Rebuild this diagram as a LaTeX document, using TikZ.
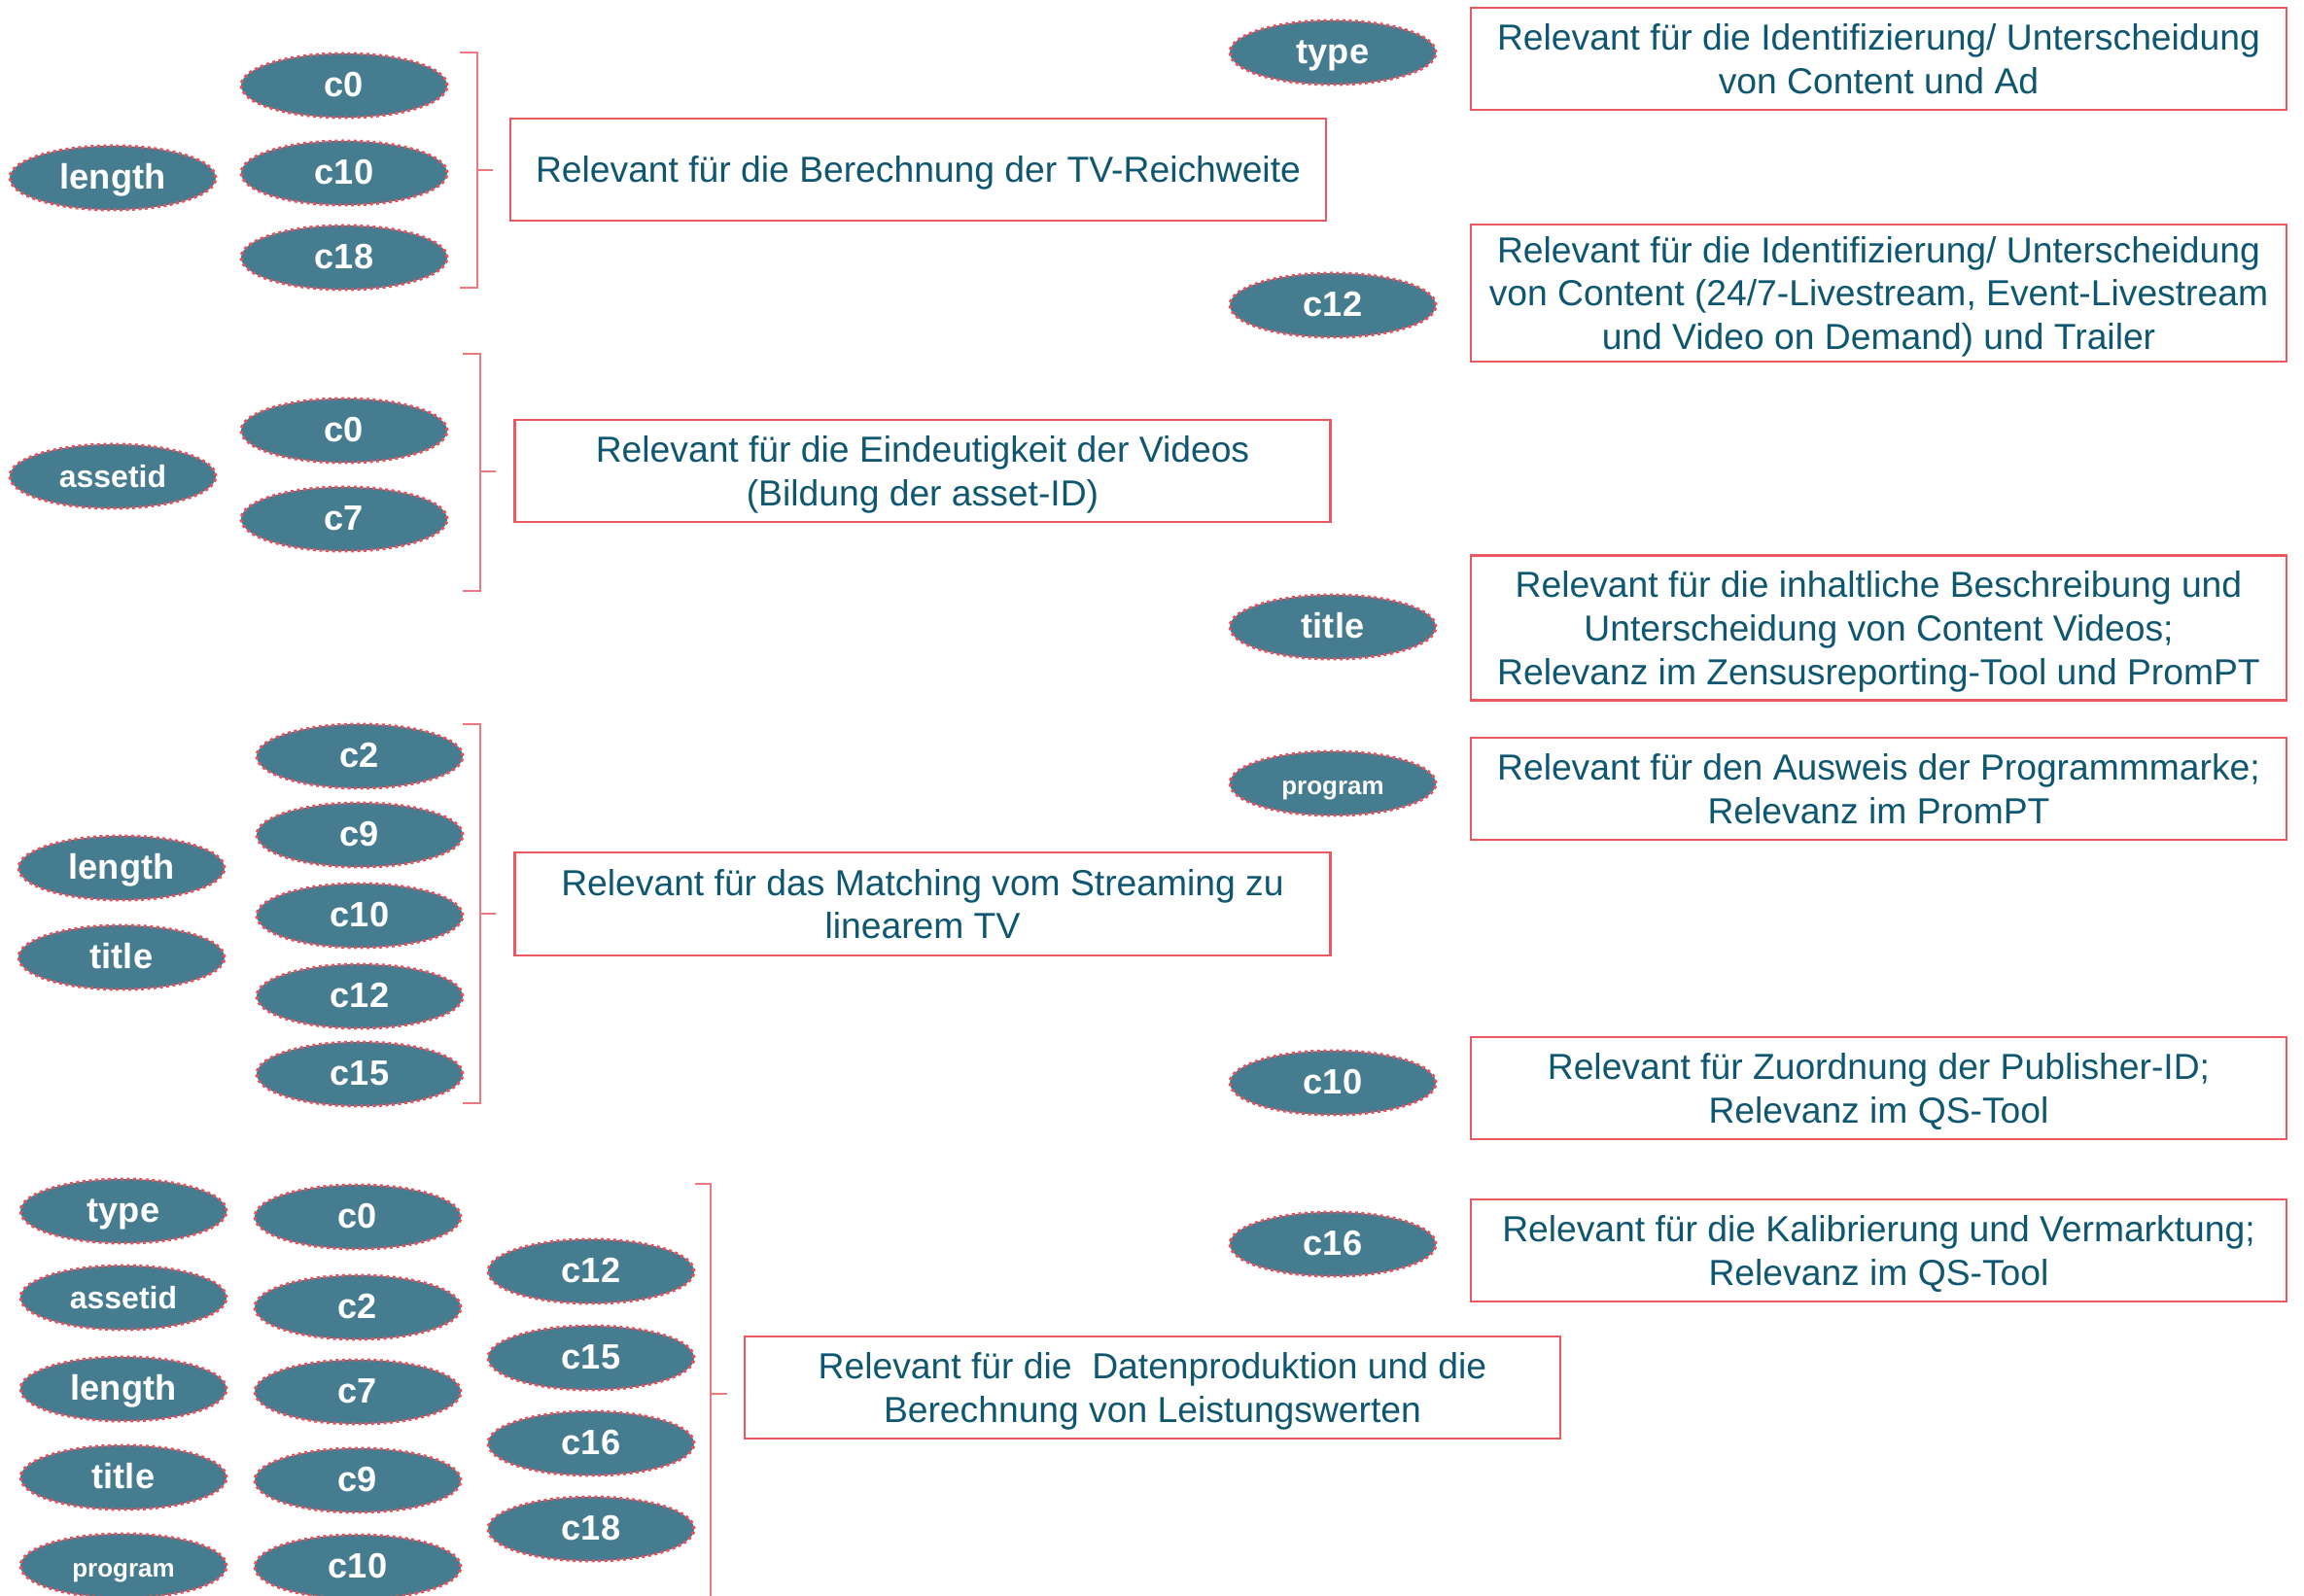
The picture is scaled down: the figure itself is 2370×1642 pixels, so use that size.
\documentclass[tikz,border=0pt]{standalone}
\usepackage{fontspec}
\setmainfont{Liberation Sans}
\usepackage{tikz}
\usetikzlibrary{shapes.geometric,positioning}

\definecolor{feldfill}{RGB}{69,124,144}
\definecolor{punkt}{RGB}{232,80,91}
\definecolor{rahmen}{RGB}{235,88,98}
\definecolor{klammerrot}{RGB}{238,120,128}
\definecolor{schrift}{RGB}{15,86,112}

\tikzset{
  feld/.style={ellipse, fill=feldfill, text=white, inner sep=0pt,
    minimum width=21.2mm, minimum height=6.6mm,
    text height=7.4pt, text depth=1pt,
    draw=punkt, line width=0.3mm, dash pattern=on 0.3mm off 0.35mm,
    font=\bfseries\fontsize{10.3}{12}\selectfont},
  mittel/.style={font=\bfseries\fontsize{9.1}{11}\selectfont},
  winzig/.style={font=\bfseries\fontsize{7.4}{9}\selectfont},
  hinweis/.style={rectangle, draw=rahmen, line width=0.25mm, text=schrift,
    align=center, inner sep=0pt, minimum width=83.9mm, text depth=0pt,
    font=\fontsize{10.6}{12.8}\selectfont},
  klammer/.style={draw=klammerrot, line width=0.17mm}
}

\begin{document}
\begin{tikzpicture}[x=0.1mm, y=-0.1mm]
\useasboundingbox (0,0) rectangle (2370,1642);

% Gruppe 1
\node[feld] (len1) at (116,183) {length};
\node[feld] (a-c0) at (354,88) {c0};
\node[feld] (a-c10) at (354,178) {c10};
\node[feld] (a-c18) at (354,265) {c18};
\draw[klammer] (473,54) -- (491,54) -- (491,296) -- (473,296);
\draw[klammer] (491,175) -- (507,175);
\node[hinweis, minimum height=10.5mm] (reichweite) at (944.5,174.5)
  {Relevant für die Berechnung der TV-Reichweite};

% Gruppe 2
\node[feld, mittel] (asset2) at (116,490) {assetid};
\node[feld] (b-c0) at (354,443) {c0};
\node[feld] (b-c7) at (354,534) {c7};
\draw[klammer] (476,364) -- (494,364) -- (494,608) -- (476,608);
\draw[klammer] (494,485) -- (510,485);
\node[hinweis, minimum height=10.5mm] (eindeutig) at (949,484.5)
  {Relevant für die Eindeutigkeit der Videos\\(Bildung der asset-ID)};

% Gruppe 3
\node[feld] (len3) at (125,893) {length};
\node[feld] (title3) at (125,985) {title};
\node[feld] (c-c2) at (370,778) {c2};
\node[feld] (c-c9) at (370,859) {c9};
\node[feld] (c-c10) at (370,942) {c10};
\node[feld] (c-c12) at (370,1025) {c12};
\node[feld] (c-c15) at (370,1105) {c15};
\draw[klammer] (476,745) -- (494,745) -- (494,1135) -- (476,1135);
\draw[klammer] (494,940) -- (510,940);
\node[hinweis, minimum height=10.6mm] (matching) at (949,930)
  {Relevant für das Matching vom Streaming zu\\linearem TV};

% Gruppe 4
\node[feld] (type4) at (127,1246) {type};
\node[feld, mittel] (asset4) at (127,1335) {assetid};
\node[feld] (len4) at (127,1429) {length};
\node[feld] (title4) at (127,1520) {title};
\node[feld, winzig] (prog4) at (127,1611) {program};
\node[feld] (d-c0) at (368,1252) {c0};
\node[feld] (d-c2) at (368,1345) {c2};
\node[feld] (d-c7) at (368,1432) {c7};
\node[feld] (d-c9) at (368,1523) {c9};
\node[feld] (d-c10) at (368,1612) {c10};
\node[feld] (d-c12) at (608,1308) {c12};
\node[feld] (d-c15) at (608,1397) {c15};
\node[feld] (d-c16) at (608,1485) {c16};
\node[feld] (d-c18) at (608,1573) {c18};
\draw[klammer] (715,1218) -- (731,1218) -- (731,1642);
\draw[klammer] (731,1434) -- (748,1434);
\node[hinweis, minimum height=10.5mm] (daten) at (1185.5,1427.5)
  {Relevant für die\ \ Datenproduktion und die\\Berechnung von Leistungswerten};

% rechte Spalte
\node[feld] (r-type) at (1371,54) {type};
\node[feld] (r-c12) at (1371,314) {c12};
\node[feld] (r-title) at (1371,645) {title};
\node[feld, winzig] (r-prog) at (1371,806) {program};
\node[feld] (r-c10) at (1371,1114) {c10};
\node[feld] (r-c16) at (1371,1280) {c16};

\node[hinweis, minimum height=10.5mm] (h-type) at (1932.5,60.5)
  {Relevant für die Identifizierung/ Unterscheidung\\von Content und Ad};
\node[hinweis, minimum height=14.1mm] (h-c12) at (1932.5,301.5)
  {Relevant für die Identifizierung/ Unterscheidung\\von Content (24/7-Livestream, Event-Livestream\\und Video on Demand) und Trailer};
\node[hinweis, minimum height=14.9mm] (h-title) at (1932.5,646)
  {Relevant für die inhaltliche Beschreibung und\\Unterscheidung von Content Videos;\\Relevanz im Zensusreporting-Tool und PromPT};
\node[hinweis, minimum height=10.5mm] (h-prog) at (1932.5,811.5)
  {Relevant für den Ausweis der Programmmarke;\\Relevanz im PromPT};
\node[hinweis, minimum height=10.5mm] (h-c10) at (1932.5,1119.5)
  {Relevant für Zuordnung der Publisher-ID;\\Relevanz im QS-Tool};
\node[hinweis, minimum height=10.5mm] (h-c16) at (1932.5,1286.5)
  {Relevant für die Kalibrierung und Vermarktung;\\Relevanz im QS-Tool};

\end{tikzpicture}
\end{document}
